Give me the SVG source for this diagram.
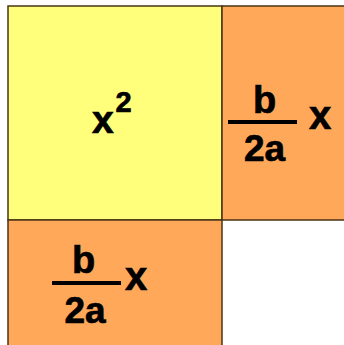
<svg xmlns="http://www.w3.org/2000/svg" width="344" height="345" viewBox="0 0 344 345">
<style>
.box{stroke:#4a3414;stroke-width:1.5}
.y{fill:#ffff7c}
.o{fill:#ffa85a}
.t{font-family:"Liberation Sans",Arial,sans-serif;font-weight:bold;fill:#000;stroke:#000;stroke-width:0.7}
</style>
<rect x="0" y="0" width="344" height="345" fill="#ffffff"/>
<g id="square-x2">
<rect class="box y" x="8" y="6" width="214" height="214"/>
<text class="t" x="92" y="133" font-size="39">x</text>
<text class="t" x="115.5" y="111.5" font-size="29">2</text>
</g>
<g id="rect-right">
<rect class="box o" x="222" y="6" width="130" height="214"/>
<text class="t" x="264.5" y="113" font-size="38" text-anchor="middle">b</text>
<rect x="228" y="120" width="69" height="4" fill="#000"/>
<text class="t" x="264.5" y="161" font-size="37" text-anchor="middle">2a</text>
<text class="t" x="309" y="129" font-size="40">x</text>
</g>
<g id="rect-bottom">
<rect class="box o" x="8" y="220" width="214" height="130"/>
<text class="t" x="83.5" y="273" font-size="38" text-anchor="middle">b</text>
<rect x="52" y="281" width="69" height="4" fill="#000"/>
<text class="t" x="85" y="323" font-size="37" text-anchor="middle">2a</text>
<text class="t" x="125" y="290" font-size="40">x</text>
</g>
<g id="connectors"/>
</svg>
